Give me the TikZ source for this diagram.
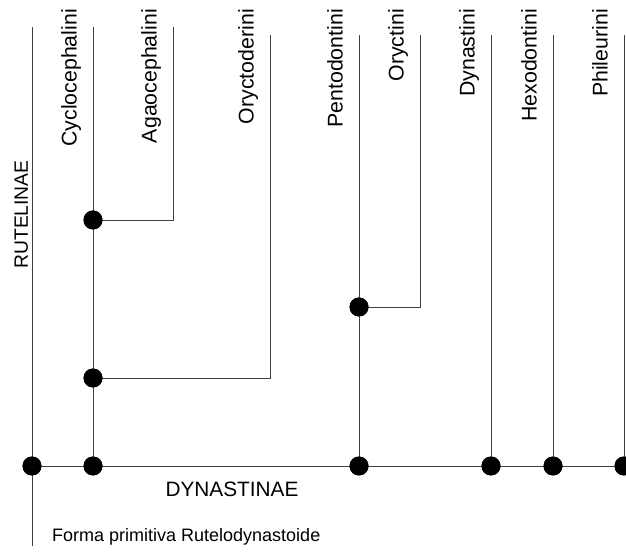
\documentclass[tikz,border=0pt]{standalone}
\usepackage{fontspec}
\setmainfont{Liberation Sans}
\begin{document}
\begin{tikzpicture}[x=1pt,y=1pt,
  branch/.style={draw=black!75,line width=0.9pt},
  dot/.style={circle,fill=black,inner sep=0pt,minimum size=19pt},
  taxon/.style={rotate=90,anchor=base east,inner sep=0pt,font=\fontsize{21.3}{22}\selectfont},
  grouplabel/.style={inner sep=0pt,font=\fontsize{20.8}{22}\selectfont}]
\useasboundingbox (0,0) rectangle (626,554);
% tips of lines
\coordinate (tRoot) at (32,527);
\coordinate (tCyc) at (93,527);
\coordinate (tAga) at (173,527);
\coordinate (tOryd) at (270,519);
\coordinate (tPen) at (359,519);
\coordinate (tOry) at (420,519);
\coordinate (tDyn) at (491,519);
\coordinate (tHex) at (553,519);
\coordinate (tPhi) at (624,519);
\coordinate (base) at (32,8);
\coordinate (right) at (626,88);
% corners
\coordinate (cAga) at (173,334);
\coordinate (cOryd) at (270,176);
\coordinate (cOry) at (420,247);
% dots
\node[dot] (n0) at (32,88) {};
\node[dot] (n1) at (93,88) {};
\node[dot] (n2) at (359,88) {};
\node[dot] (n3) at (491,88) {};
\node[dot] (n4) at (553,88) {};
\node[dot] (n5) at (624,88) {};
\node[dot] (m1) at (93,334) {};
\node[dot] (m2) at (93,176) {};
\node[dot] (m3) at (359,247) {};
% lines
\draw[branch] (tRoot) -- (base);
\draw[branch] (n0.center) -- (right);
\draw[branch] (tCyc) -- (n1.center);
\draw[branch] (tAga) -- (cAga) -- (m1.center);
\draw[branch] (tOryd) -- (cOryd) -- (m2.center);
\draw[branch] (tPen) -- (n2.center);
\draw[branch] (tOry) -- (cOry) -- (m3.center);
\draw[branch] (tDyn) -- (n3.center);
\draw[branch] (tHex) -- (n4.center);
\draw[branch] (tPhi) -- (n5.center);
% redraw dots on top of the lines
\foreach \n in {n0,n1,n2,n3,n4,n5,m1,m2,m3}{\fill (\n) circle (9.5pt);}
% labels
\node[taxon] (lCyc) at (76.5,545) {Cyclocephalini};
\node[taxon] (lAga) at (156.5,545) {Agaocephalini};
\node[taxon] (lOryd) at (253.5,545) {Oryctoderini};
\node[taxon] (lPen) at (342.5,545) {Pentodontini};
\node[taxon] (lOry) at (403.5,545) {Oryctini};
\node[taxon] (lDyn) at (474.5,545) {Dynastini};
\node[taxon] (lHex) at (536.5,545) {Hexodontini};
\node[taxon] (lPhi) at (607.5,545) {Phileurini};
\node[grouplabel,rotate=90,anchor=base,font=\fontsize{19.3}{21}\selectfont] (ruteli) at (28,339.5) {RUTELINAE};
\node[grouplabel,anchor=base] (dynast) at (232,57.5) {DYNASTINAE};
\node[inner sep=0pt,anchor=base west,font=\fontsize{18}{20}\selectfont] (forma) at (52,12.5) {Forma primitiva Rutelodynastoide};
\end{tikzpicture}
\end{document}
